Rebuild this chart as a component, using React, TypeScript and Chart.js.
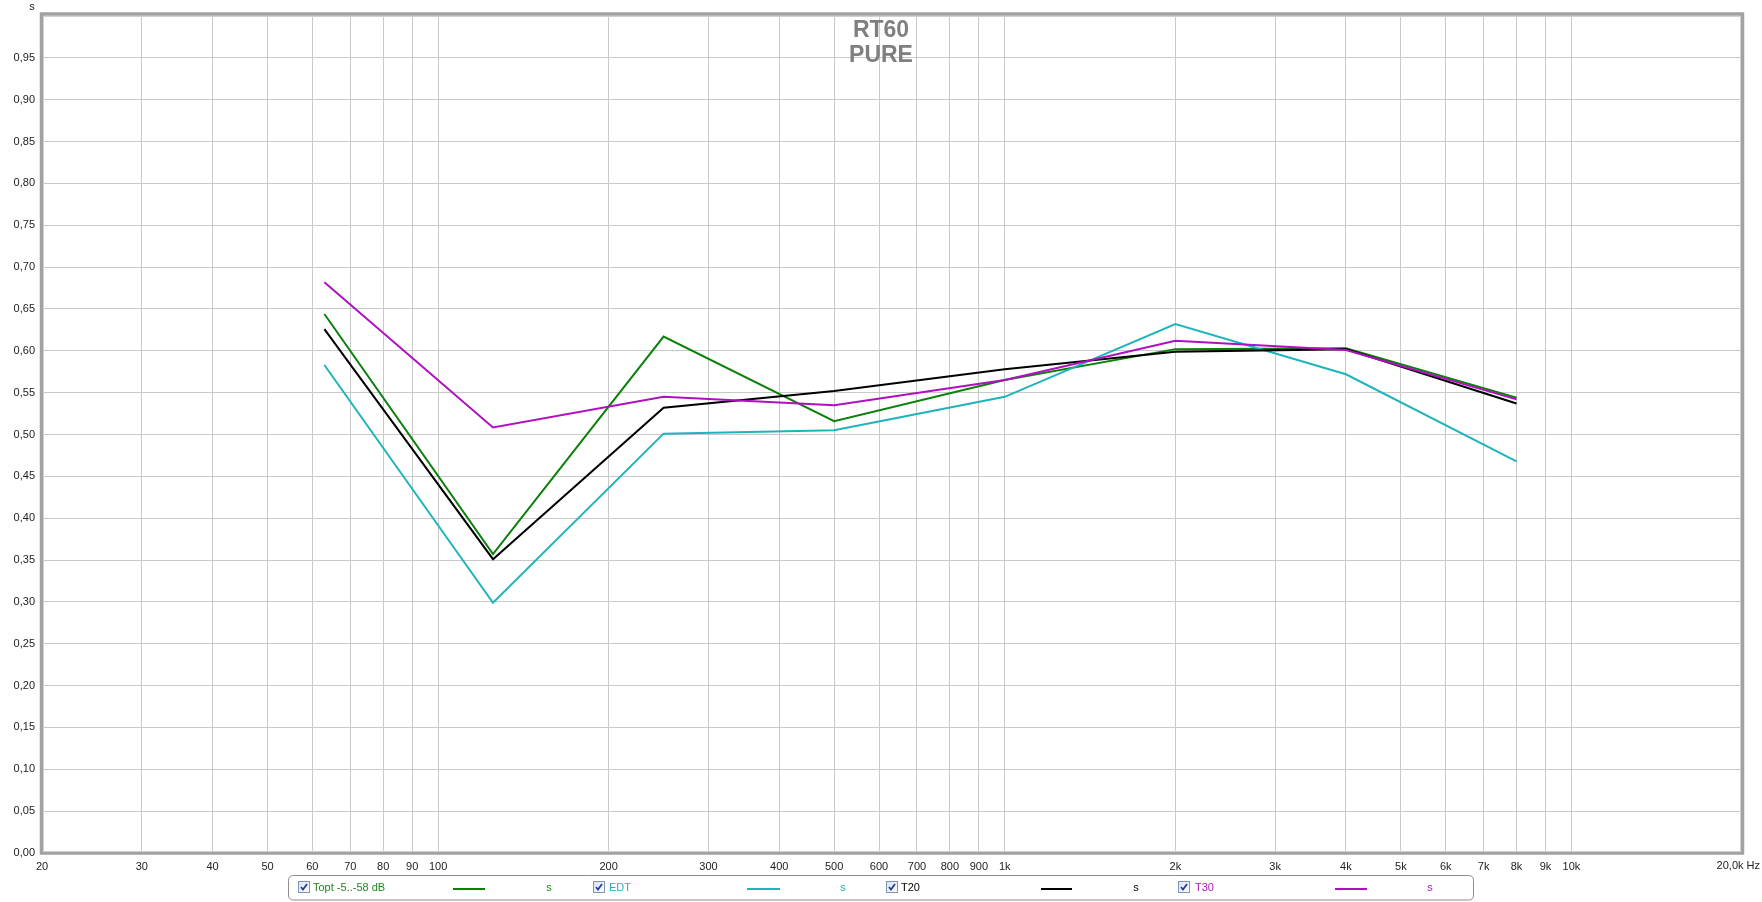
import React, { useEffect, useRef } from "react";
import { Chart, registerables } from "chart.js";

Chart.register(...registerables);

// Octave band centre frequencies (Hz)
const FREQS = [63, 125, 250, 500, 1000, 2000, 4000, 8000];

// RT60 series (seconds)
const TOPT = [0.644, 0.357, 0.617, 0.516, 0.565, 0.602, 0.603, 0.544];
const EDT = [0.583, 0.299, 0.501, 0.505, 0.545, 0.632, 0.572, 0.468];
const T20 = [0.626, 0.351, 0.532, 0.552, 0.578, 0.599, 0.602, 0.537];
const T30 = [0.682, 0.5085, 0.545, 0.535, 0.565, 0.612, 0.601, 0.542];

// Axis ticks
const X_TICKS = [
  20, 30, 40, 50, 60, 70, 80, 90, 100, 200, 300, 400, 500, 600, 700, 800, 900,
  1000, 2000, 3000, 4000, 5000, 6000, 7000, 8000, 9000, 10000, 20000,
];
const X_TICK_LABELS = [
  "20", "30", "40", "50", "60", "70", "80", "90", "100", "200", "300", "400",
  "500", "600", "700", "800", "900", "1k", "2k", "3k", "4k", "5k", "6k", "7k",
  "8k", "9k", "10k", "",
];
const X_END_LABEL = "20,0k Hz";

const Y_TICKS = [
  0, 0.05, 0.1, 0.15, 0.2, 0.25, 0.3, 0.35, 0.4, 0.45, 0.5, 0.55, 0.6, 0.65,
  0.7, 0.75, 0.8, 0.85, 0.9, 0.95, 1.0,
];
const Y_TICK_LABELS = [
  "0,00", "0,05", "0,10", "0,15", "0,20", "0,25", "0,30", "0,35", "0,40",
  "0,45", "0,50", "0,55", "0,60", "0,65", "0,70", "0,75", "0,80", "0,85",
  "0,90", "0,95", "",
];
const Y_UNIT = "s";

const TITLE_LINES = ["RT60", "PURE"];

const SERIES_NAMES = ["Topt -5..-58 dB", "EDT", "T20", "T30"];
const SERIES_COLORS = ["#0b800b", "#1db4bc", "#000000", "#b010c0"];
const SERIES_TEXT_COLORS = ["#1a8a1a", "#1fb0b8", "#000000", "#a818b8"];
const SERIES_DATA = [TOPT, EDT, T20, T30];

const FONT = '"Liberation Sans", Arial, sans-serif';

const overlayPlugin = {
  id: "overlay",
  afterDraw(chart: any) {
    const ctx = chart.ctx as CanvasRenderingContext2D;
    const { left, right, top, bottom } = chart.chartArea;
    ctx.save();

    // Frame
    ctx.strokeStyle = "#a2a2a2";
    ctx.lineWidth = 3.5;
    ctx.strokeRect(left - 0.5, top - 2, right - left + 1, bottom - top + 2);
    ctx.strokeStyle = "#d0d0d0";
    ctx.lineWidth = 1;
    ctx.strokeRect(left + 1.5, top + 0.5, right - left - 3, bottom - top - 2);

    // Title
    ctx.fillStyle = "#7f7f7f";
    ctx.font = `bold 23px ${FONT}`;
    ctx.textAlign = "center";
    ctx.textBaseline = "alphabetic";
    ctx.fillText(TITLE_LINES[0], 881, 37);
    ctx.fillText(TITLE_LINES[1], 881, 62);

    // Y unit
    ctx.fillStyle = "#222";
    ctx.font = `11px ${FONT}`;
    ctx.textAlign = "center";
    ctx.fillText(Y_UNIT, 32, 10);

    // X end label
    ctx.textAlign = "right";
    ctx.textBaseline = "middle";
    ctx.fillText(X_END_LABEL, 1760, 866);

    // Legend box
    const bx = 288.5, by = 875.5, bw = 1185, bh = 24.5, r = 5;
    ctx.beginPath();
    ctx.moveTo(bx + r, by);
    ctx.lineTo(bx + bw - r, by);
    ctx.quadraticCurveTo(bx + bw, by, bx + bw, by + r);
    ctx.lineTo(bx + bw, by + bh - r);
    ctx.quadraticCurveTo(bx + bw, by + bh, bx + bw - r, by + bh);
    ctx.lineTo(bx + r, by + bh);
    ctx.quadraticCurveTo(bx, by + bh, bx, by + bh - r);
    ctx.lineTo(bx, by + r);
    ctx.quadraticCurveTo(bx, by, bx + r, by);
    ctx.closePath();
    ctx.fillStyle = "#ffffff";
    ctx.fill();
    ctx.strokeStyle = "#8c8c8c";
    ctx.lineWidth = 1;
    ctx.stroke();

    const items = [
      { cb: 298, text: 313, l0: 453, l1: 485, s: 549 },
      { cb: 593, text: 609, l0: 747, l1: 780, s: 843 },
      { cb: 886, text: 901, l0: 1041, l1: 1072, s: 1136 },
      { cb: 1178, text: 1195, l0: 1335, l1: 1367, s: 1430 },
    ];
    items.forEach((it, i) => {
      // checkbox
      const cy = 881;
      const g = ctx.createLinearGradient(it.cb, cy, it.cb + 12, cy + 12);
      g.addColorStop(0, "#d8e0ee");
      g.addColorStop(1, "#ffffff");
      ctx.fillStyle = g;
      ctx.fillRect(it.cb + 0.5, cy + 0.5, 11, 11);
      ctx.strokeStyle = "#7e95b8";
      ctx.lineWidth = 1;
      ctx.strokeRect(it.cb + 0.5, cy + 0.5, 11, 11);
      ctx.strokeStyle = "#24399a";
      ctx.lineWidth = 1.7;
      ctx.beginPath();
      ctx.moveTo(it.cb + 3, cy + 6);
      ctx.lineTo(it.cb + 5, cy + 8.5);
      ctx.lineTo(it.cb + 9, cy + 3);
      ctx.stroke();

      // text
      ctx.fillStyle = SERIES_TEXT_COLORS[i];
      ctx.font = `11px ${FONT}`;
      ctx.textAlign = "left";
      ctx.textBaseline = "middle";
      ctx.fillText(SERIES_NAMES[i], it.text, 888);

      // line sample
      ctx.strokeStyle = SERIES_COLORS[i];
      ctx.lineWidth = 2;
      ctx.beginPath();
      ctx.moveTo(it.l0, 889);
      ctx.lineTo(it.l1, 889);
      ctx.stroke();

      // unit
      ctx.textAlign = "center";
      ctx.fillText(Y_UNIT, it.s, 888);
    });

    ctx.restore();
  },
};

export default function App() {
  const canvasRef = useRef<HTMLCanvasElement | null>(null);

  useEffect(() => {
    const canvas = canvasRef.current;
    if (!canvas) return;

    const datasets = SERIES_DATA.map((vals, i) => ({
      label: SERIES_NAMES[i],
      data: FREQS.map((f, j) => ({ x: f, y: vals[j] })),
      borderColor: SERIES_COLORS[i],
      backgroundColor: SERIES_COLORS[i],
      borderWidth: 2,
      pointRadius: 0,
      tension: 0,
      fill: false,
      order: 3 - i,
    }));

    const chart = new Chart(canvas, {
      type: "line",
      data: { datasets },
      plugins: [overlayPlugin],
      options: {
        responsive: false,
        animation: false,
        events: [],
        layout: { padding: { top: 16, right: 20, bottom: 0, left: 0 } },
        plugins: {
          legend: { display: false },
          tooltip: { enabled: false },
          title: { display: false },
        },
        scales: {
          x: {
            type: "logarithmic",
            min: 20,
            max: 20000,
            afterBuildTicks: (scale: any) => {
              scale.ticks = X_TICKS.map((v) => ({ value: v }));
            },
            afterFit: (scale: any) => {
              scale.height = 49;
            },
            ticks: {
              autoSkip: false,
              maxRotation: 0,
              minRotation: 0,
              padding: 7,
              color: "#222",
              font: { family: FONT, size: 11 },
              callback: (value: any) => {
                const idx = X_TICKS.indexOf(Number(value));
                return idx >= 0 ? X_TICK_LABELS[idx] : "";
              },
            },
            grid: { color: "#c9c9c9", lineWidth: 1, drawTicks: false },
            border: { display: false },
          },
          y: {
            type: "linear",
            min: 0,
            max: 1,
            afterBuildTicks: (scale: any) => {
              scale.ticks = Y_TICKS.map((v) => ({ value: v }));
            },
            afterFit: (scale: any) => {
              scale.width = 42;
            },
            ticks: {
              autoSkip: false,
              padding: 7,
              color: "#222",
              font: { family: FONT, size: 11 },
              callback: (value: any) => {
                const v = Number(value);
                const idx = Y_TICKS.findIndex((t) => Math.abs(t - v) < 1e-6);
                return idx >= 0 ? Y_TICK_LABELS[idx] : "";
              },
            },
            grid: { color: "#c9c9c9", lineWidth: 1, drawTicks: false },
            border: { display: false },
          },
        },
      },
    } as any);

    return () => chart.destroy();
  }, []);

  return (
    <div
      style={{
        position: "fixed",
        left: 0,
        top: 0,
        width: 1762,
        height: 902,
        background: "#ffffff",
      }}
    >
      <canvas ref={canvasRef} width={1762} height={902} />
    </div>
  );
}
